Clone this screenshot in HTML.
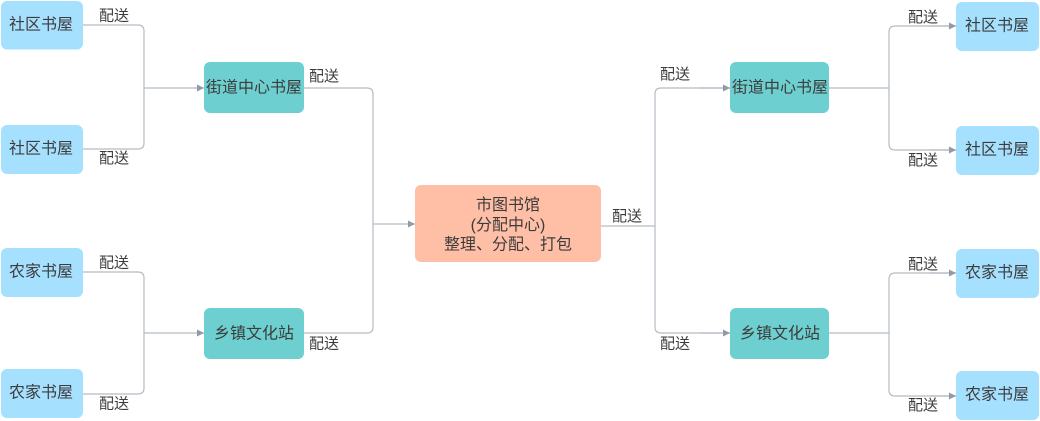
<!DOCTYPE html>
<html><head><meta charset="utf-8"><style>
html,body{margin:0;padding:0;background:#fff;}
svg{display:block;}
text{font-family:"Liberation Sans","Noto Sans CJK SC",sans-serif;font-size:15px;fill:#3c3c3c;}
text.b{font-size:16px;}
</style></head><body>
<svg width="1040" height="421" viewBox="0 0 1040 421" xmlns="http://www.w3.org/2000/svg">
<defs>
<marker id="ar" markerWidth="8" markerHeight="8" refX="7" refY="4" orient="auto" markerUnits="userSpaceOnUse">
<path d="M0,0.5 L7,4 L0,7.5 Z" fill="#8f9ba6"/>
</marker>
</defs>
<g fill="none" stroke="#b4bcc4" stroke-width="1.2">
<path d="M83,25 H138 Q144,25 144,31 V143 Q144,149 138,149 H83"/>
<path d="M144,88 H204" marker-end="url(#ar)"/>
<path d="M83,272 H138 Q144,272 144,278 V388 Q144,394 138,394 H83"/>
<path d="M144,333 H204" marker-end="url(#ar)"/>
<path d="M304,88 H367 Q373,88 373,94 V327 Q373,333 367,333 H304"/>
<path d="M373,224 H415" marker-end="url(#ar)"/>
<path d="M601,226 H655"/>
<path d="M730,88 H661 Q655,88 655,94 V327 Q655,333 661,333 H730"/>
<path d="M700,88 H730" marker-end="url(#ar)"/>
<path d="M700,333 H730" marker-end="url(#ar)"/>
<path d="M829,88 H889"/>
<path d="M956,26 H895 Q889,26 889,32 V144 Q889,150 895,150 H956"/>
<path d="M930,26 H956" marker-end="url(#ar)"/>
<path d="M930,150 H956" marker-end="url(#ar)"/>
<path d="M829,333 H889"/>
<path d="M956,273 H895 Q889,273 889,279 V390 Q889,396 895,396 H956"/>
<path d="M930,273 H956" marker-end="url(#ar)"/>
<path d="M930,396 H956" marker-end="url(#ar)"/>
</g>

<g>
<rect x="1" y="1" width="82" height="48.5" rx="6" fill="#a6e0ff"/>
<rect x="1" y="125" width="82" height="49" rx="6" fill="#a6e0ff"/>
<rect x="1" y="248" width="82" height="49" rx="6" fill="#a6e0ff"/>
<rect x="1" y="369" width="82" height="49" rx="6" fill="#a6e0ff"/>
<rect x="204" y="62" width="100" height="51" rx="6" fill="#6dcfcf"/>
<rect x="204" y="308" width="100" height="51" rx="6" fill="#6dcfcf"/>
<rect x="415" y="185" width="186" height="77" rx="6" fill="#ffbfa6"/>
<rect x="730" y="62" width="99" height="51" rx="6" fill="#6dcfcf"/>
<rect x="730" y="308" width="99" height="51" rx="6" fill="#6dcfcf"/>
<rect x="956" y="2" width="83" height="49" rx="6" fill="#a6e0ff"/>
<rect x="956" y="126" width="83" height="49" rx="6" fill="#a6e0ff"/>
<rect x="956" y="249" width="83" height="49" rx="6" fill="#a6e0ff"/>
<rect x="956" y="371" width="83" height="49" rx="6" fill="#a6e0ff"/>
</g>

<g text-anchor="middle" dominant-baseline="central">
<text class="b" x="41" y="25">社区书屋</text>
<text class="b" x="41" y="149">社区书屋</text>
<text class="b" x="41" y="272">农家书屋</text>
<text class="b" x="41" y="393">农家书屋</text>
<text class="b" x="254" y="88">街道中心书屋</text>
<text class="b" x="254" y="334">乡镇文化站</text>
<text class="b" x="508" y="205.5">市图书馆</text>
<text class="b" x="508" y="225.5">(分配中心)</text>
<text class="b" x="508" y="245">整理、分配、打包</text>
<text class="b" x="780" y="88">街道中心书屋</text>
<text class="b" x="780" y="334">乡镇文化站</text>
<text class="b" x="997" y="26">社区书屋</text>
<text class="b" x="997" y="150">社区书屋</text>
<text class="b" x="997" y="273">农家书屋</text>
<text class="b" x="997" y="395">农家书屋</text>

<text x="114" y="16">配送</text>
<text x="114" y="158.5">配送</text>
<text x="114" y="263">配送</text>
<text x="114" y="404">配送</text>
<text x="324" y="76.5">配送</text>
<text x="324" y="344">配送</text>
<text x="627" y="216.5">配送</text>
<text x="675" y="74.5">配送</text>
<text x="675" y="344">配送</text>
<text x="923" y="17.5">配送</text>
<text x="923" y="160.5">配送</text>
<text x="923" y="264.5">配送</text>
<text x="923" y="405.5">配送</text>
</g>
</svg>
</body></html>
